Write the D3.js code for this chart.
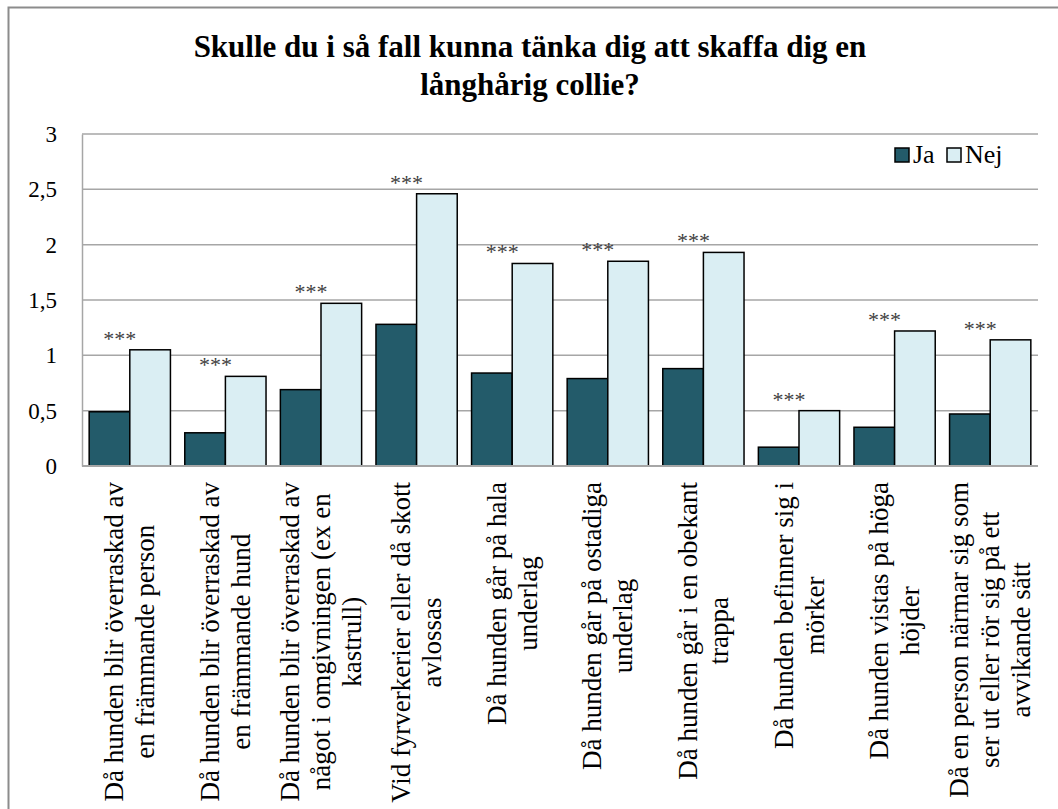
<!DOCTYPE html>
<html lang="sv">
<head>
<meta charset="UTF-8">
<title>Långhårig collie</title>
<script src="https://d3js.org/d3.v7.min.js"></script>
<style>
  body { margin: 0; background: #fff; }
</style>
</head>
<body>
<script>
// category labels, already broken into lines as in the original
var categories = [
  ["Då hunden blir överraskad av", "en främmande person"],
  ["Då hunden blir överraskad av", "en främmande hund"],
  ["Då hunden blir överraskad av", "något i omgivningen (ex en", "kastrull)"],
  ["Vid fyrverkerier eller då skott", "avlossas"],
  ["Då hunden går på hala", "underlag"],
  ["Då hunden går på ostadiga", "underlag"],
  ["Då hunden går i en obekant", "trappa"],
  ["Då hunden befinner sig i", "mörker"],
  ["Då hunden vistas på höga", "höjder"],
  ["Då en person närmar sig som", "ser ut eller rör sig på ett", "avvikande sätt"]
];
var seriesNames = ["Ja", "Nej"];
var ja  = [0.49, 0.30, 0.69, 1.28, 0.84, 0.79, 0.88, 0.17, 0.35, 0.47];
var nej = [1.05, 0.81, 1.47, 2.46, 1.83, 1.85, 1.93, 0.50, 1.22, 1.14];
var significance = ["***", "***", "***", "***", "***", "***", "***", "***", "***", "***"];
var yTicks = [0, 0.5, 1, 1.5, 2, 2.5, 3];
var titleLines = ["Skulle du i så fall kunna tänka dig att skaffa dig en", "långhårig collie?"];

var W = 1058, H = 809;
var FONT = "Liberation Serif, Times New Roman, serif";
var plot = { left: 82, right: 1038, top: 134, bottom: 466 };
var colors = { Ja: "#235B6A", Nej: "#DAEEF3" };

var svg = d3.select("body").append("svg")
    .attr("width", W)
    .attr("height", H)
    .attr("font-family", FONT);

// outer chart frame (only top and left edges are inside the picture)
svg.append("rect")
    .attr("x", 8.5).attr("y", 7.5)
    .attr("width", W + 20).attr("height", H + 20)
    .attr("fill", "none")
    .attr("stroke", "#8c8c8c")
    .attr("stroke-width", 2);

// title
svg.append("g").selectAll("text")
    .data(titleLines)
    .enter().append("text")
    .attr("x", 530)
    .attr("y", (d, i) => 57 + i * 38)
    .attr("text-anchor", "middle")
    .attr("font-family", FONT)
    .attr("font-size", 31)
    .attr("font-weight", "bold")
    .text(d => d);

// scales
var x0 = d3.scaleBand()
    .domain(d3.range(categories.length))
    .range([plot.left, plot.right])
    .paddingInner(0.15)
    .paddingOuter(0.075);
var x1 = d3.scaleBand()
    .domain(seriesNames)
    .range([0, x0.bandwidth()]);
var y = d3.scaleLinear()
    .domain([0, 3])
    .range([plot.bottom, plot.top]);

// gridlines
svg.append("g").selectAll("line")
    .data(yTicks)
    .enter().append("line")
    .attr("x1", plot.left).attr("x2", plot.right)
    .attr("y1", d => y(d)).attr("y2", d => y(d))
    .attr("stroke", "#a6a6a6")
    .attr("stroke-width", 1.5);

// y axis
var yAxis = svg.append("g")
    .attr("transform", "translate(" + plot.left + ",0)")
    .call(d3.axisLeft(y).tickValues(yTicks).tickSize(0).tickPadding(25)
        .tickFormat(d => String(d).replace(".", ",")));
yAxis.attr("font-family", FONT).attr("font-size", 23);
yAxis.select(".domain").attr("stroke", "#a6a6a6").attr("stroke-width", 1.5);
yAxis.selectAll("text").attr("fill", "#000");

// bars
var rows = categories.map((c, i) => ({ i: i, Ja: ja[i], Nej: nej[i] }));
var groups = svg.append("g").selectAll("g")
    .data(rows)
    .enter().append("g")
    .attr("transform", d => "translate(" + x0(d.i) + ",0)");

groups.selectAll("rect")
    .data(d => seriesNames.map(k => ({ key: k, value: d[k] })))
    .enter().append("rect")
    .attr("x", d => x1(d.key))
    .attr("y", d => y(d.value))
    .attr("width", x1.bandwidth())
    .attr("height", d => y(0) - y(d.value))
    .attr("fill", d => colors[d.key])
    .attr("stroke", "#000")
    .attr("stroke-width", 1.5);

// x axis line
svg.append("line")
    .attr("x1", plot.left).attr("x2", plot.right)
    .attr("y1", y(0)).attr("y2", y(0))
    .attr("stroke", "#a6a6a6")
    .attr("stroke-width", 2);

// significance stars above each group
svg.append("g").selectAll("text")
    .data(significance)
    .enter().append("text")
    .attr("x", (d, i) => x0(i) + x0.bandwidth() / 2 - 10)
    .attr("y", (d, i) => y(nej[i]) - 4)
    .attr("text-anchor", "middle")
    .attr("fill", "#404040")
    .attr("font-family", FONT)
    .attr("font-size", 22)
    .text(d => d);

// category labels, rotated, lines centred against each other, top aligned
var labelTop = 482, lineGap = 31;
var labels = svg.append("g").selectAll("g")
    .data(categories)
    .enter().append("g");

labels.each(function(lines, i) {
    var g = d3.select(this);
    var cx = x0(i) + x0.bandwidth() / 2;
    var texts = g.selectAll("text")
        .data(lines)
        .enter().append("text")
        .attr("text-anchor", "middle")
        .attr("font-family", FONT)
        .attr("font-size", 27)
        .text(d => d);
    var maxLen = d3.max(texts.nodes(), n => n.getComputedTextLength());
    var cy = labelTop + maxLen / 2;
    var n = lines.length;
    texts.attr("transform", (d, j) => {
        var off = (j - (n - 1) / 2) * lineGap;
        return "translate(" + (cx + off + 9) + "," + cy + ") rotate(-90)";
    });
});

// legend
var legend = svg.append("g").attr("transform", "translate(895,148)");
var legendX = [0, 52];
seriesNames.forEach((k, i) => {
    var item = legend.append("g").attr("transform", "translate(" + legendX[i] + ",0)");
    item.append("rect")
        .attr("width", 14).attr("height", 14)
        .attr("fill", colors[k])
        .attr("stroke", "#000")
        .attr("stroke-width", 1.5);
    item.append("text")
        .attr("x", 18).attr("y", 15)
        .attr("font-family", FONT)
        .attr("font-size", 26)
        .text(k);
});
</script>
</body>
</html>
